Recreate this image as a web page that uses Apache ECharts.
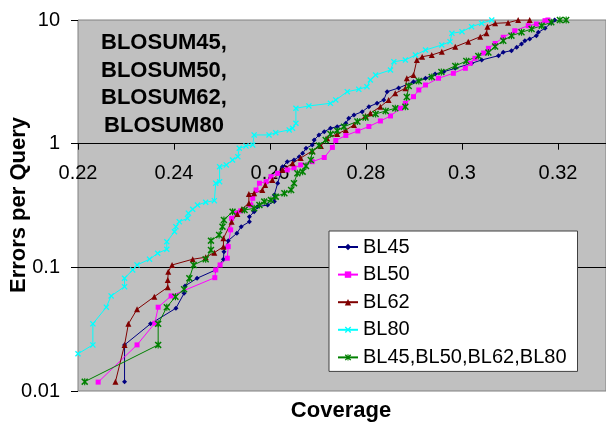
<!DOCTYPE html>
<html>
<head>
<meta charset="utf-8">
<script src="https://cdn.jsdelivr.net/npm/echarts@6.0.0/dist/echarts.min.js"></script>
<style>
html,body{margin:0;padding:0;background:#fff;}
#chart{width:606px;height:425px;}
</style>
</head>
<body>
<div id="chart"></div>
<script>
// ---- data (coverage, errors per query) ----
const seriesNames = ['BL45', 'BL50', 'BL62', 'BL80', 'BL45,BL50,BL62,BL80'];
const xTicks = [0.22, 0.24, 0.26, 0.28, 0.30, 0.32];
const yTicks = [0.01, 0.1, 1, 10];

const bl45 = [[0.2297,0.0119],[0.2297,0.0236],[0.2351,0.0349],[0.2404,0.0467],[0.2421,0.0617],[0.2423,0.0707],[0.2448,0.0816],[0.2487,0.0953],[0.2503,0.1163],[0.2504,0.1339],[0.2513,0.1644],[0.2531,0.1887],[0.2540,0.2133],[0.2557,0.234],[0.2557,0.257],[0.2567,0.282],[0.2574,0.309],[0.2595,0.319],[0.2609,0.340],[0.2609,0.385],[0.2616,0.479],[0.2626,0.652],[0.2636,0.715],[0.2650,0.738],[0.2661,0.785],[0.2668,0.836],[0.2675,0.918],[0.2688,0.976],[0.2692,1.071],[0.2702,1.176],[0.2713,1.250],[0.2726,1.332],[0.2740,1.372],[0.2758,1.462],[0.2764,1.604],[0.2775,1.706],[0.2792,1.814],[0.2806,1.991],[0.2823,2.121],[0.2837,2.256],[0.2844,2.633],[0.2868,2.820],[0.2899,3.171],[0.2924,3.379],[0.2944,3.661],[0.2962,3.820],[0.2986,4.07],[0.3020,4.467],[0.3041,4.75],[0.3076,5.145],[0.3086,5.48],[0.3103,5.65],[0.3114,6.02],[0.3124,6.40],[0.3131,6.80],[0.3141,7.02],[0.3155,7.47],[0.3159,7.95],[0.3173,8.57],[0.3186,9.51],[0.3193,10.0]];

const bl50 = [[0.2242,0.0118],[0.2323,0.0236],[0.2360,0.0353],[0.2367,0.0476],[0.2394,0.0587],[0.2485,0.0825],[0.2487,0.0953],[0.2496,0.1045],[0.2511,0.1185],[0.2513,0.147],[0.2518,0.201],[0.2520,0.249],[0.2530,0.274],[0.2539,0.286],[0.2560,0.319],[0.2564,0.362],[0.2571,0.422],[0.2578,0.479],[0.2592,0.493],[0.2602,0.541],[0.2616,0.576],[0.2636,0.613],[0.2650,0.636],[0.2664,0.673],[0.2688,0.715],[0.2713,0.773],[0.2730,0.932],[0.2737,1.061],[0.2758,1.165],[0.2783,1.267],[0.2806,1.377],[0.2830,1.526],[0.2851,1.675],[0.2872,1.933],[0.2882,2.121],[0.2899,2.399],[0.2910,2.718],[0.2924,2.982],[0.2951,3.379],[0.2982,3.708],[0.3007,4.07],[0.3017,4.467],[0.3027,4.90],[0.3045,5.41],[0.3055,5.90],[0.3069,6.46],[0.3086,7.25],[0.3110,8.19],[0.3138,9.00],[0.3155,9.28],[0.3173,9.87],[0.3179,10.0]];

const bl62 = [[0.2278,0.0119],[0.2297,0.0236],[0.2305,0.0349],[0.2323,0.0458],[0.2359,0.0579],[0.2387,0.0690],[0.2387,0.0791],[0.2388,0.0923],[0.2396,0.1045],[0.2439,0.1163],[0.2466,0.1207],[0.2484,0.1315],[0.2503,0.147],[0.2503,0.172],[0.2520,0.234],[0.2532,0.270],[0.2541,0.295],[0.2556,0.330],[0.2556,0.392],[0.2567,0.397],[0.2584,0.422],[0.2590,0.464],[0.2605,0.509],[0.2626,0.613],[0.2647,0.694],[0.2664,0.766],[0.2688,0.873],[0.2706,0.958],[0.2719,1.106],[0.2740,1.198],[0.2758,1.291],[0.2775,1.416],[0.2799,1.675],[0.2809,1.761],[0.2830,1.991],[0.2847,2.256],[0.2861,2.555],[0.2882,2.804],[0.2885,3.379],[0.2899,3.593],[0.2906,4.75],[0.2917,5.05],[0.2937,5.21],[0.2958,5.54],[0.2986,6.08],[0.3013,6.68],[0.3038,7.33],[0.3051,7.81],[0.3053,8.83],[0.3069,9.40],[0.3096,9.51],[0.3117,10.0],[0.3141,10.0]];

const bl80 = [[0.2200,0.0200],[0.2231,0.0236],[0.2231,0.0349],[0.2259,0.0476],[0.2269,0.0587],[0.2297,0.0698],[0.2297,0.0816],[0.2314,0.0953],[0.2323,0.1045],[0.2349,0.1163],[0.2366,0.130],[0.2385,0.140],[0.2385,0.161],[0.2401,0.194],[0.2404,0.213],[0.2411,0.234],[0.2428,0.249],[0.2430,0.274],[0.2439,0.295],[0.2449,0.319],[0.2466,0.336],[0.2484,0.346],[0.2487,0.479],[0.2495,0.493],[0.2495,0.652],[0.2509,0.673],[0.2522,0.738],[0.2533,0.785],[0.2536,0.918],[0.2550,0.958],[0.2564,0.976],[0.2567,1.176],[0.2598,1.176],[0.2612,1.227],[0.2640,1.291],[0.2647,1.332],[0.2654,1.462],[0.2654,1.933],[0.2681,2.018],[0.2726,2.121],[0.2737,2.256],[0.2761,2.633],[0.2785,2.753],[0.2802,2.889],[0.2809,3.273],[0.2820,3.593],[0.2851,3.943],[0.2858,4.60],[0.2882,4.75],[0.2903,5.21],[0.2924,5.72],[0.2958,6.28],[0.2975,6.68],[0.2979,7.81],[0.3000,8.04],[0.3020,8.83],[0.3041,9.40],[0.3062,10.0]];

const blAll = [[0.2214,0.0119],[0.2367,0.0236],[0.2367,0.0349],[0.2385,0.0476],[0.2403,0.0579],[0.2421,0.0665],[0.2432,0.0816],[0.2441,0.1045],[0.2466,0.1163],[0.2477,0.1382],[0.2477,0.1644],[0.2494,0.1827],[0.2501,0.2133],[0.2504,0.2416],[0.2522,0.282],[0.2547,0.291],[0.2567,0.300],[0.2578,0.319],[0.2588,0.340],[0.2602,0.351],[0.2612,0.373],[0.2630,0.397],[0.2644,0.422],[0.2650,0.479],[0.2657,0.576],[0.2668,0.594],[0.2675,0.660],[0.2685,0.738],[0.2688,0.865],[0.2702,0.967],[0.2716,1.071],[0.2726,1.198],[0.2740,1.271],[0.2754,1.372],[0.2782,1.512],[0.2799,1.628],[0.2820,1.739],[0.2841,1.838],[0.2861,1.933],[0.2882,1.991],[0.2885,2.385],[0.2889,2.928],[0.2910,3.213],[0.2937,3.461],[0.2957,3.798],[0.2986,4.25],[0.3009,4.66],[0.3034,5.12],[0.3055,5.46],[0.3069,6.11],[0.3086,6.80],[0.3103,7.47],[0.3124,7.95],[0.3145,8.46],[0.3166,9.00],[0.3186,9.58],[0.3204,10.0],[0.3217,10.0]];

const annotation = 'BLOSUM45,\nBLOSUM50,\nBLOSUM62,\nBLOSUM80';

// ---- styling ----
const FONT = '"Liberation Sans", Arial, sans-serif';
const xSym = 'path://M0,1.5L1.5,0L5,3.5L8.5,0L10,1.5L6.5,5L10,8.5L8.5,10L5,6.5L1.5,10L0,8.5L3.5,5Z';
const starSym = 'path://M0,1.5L1.5,0L5,3.5L8.5,0L10,1.5L6.5,5L10,8.5L8.5,10L5,6.5L1.5,10L0,8.5L3.5,5Z M4.2,0L5.8,0L5.8,10L4.2,10Z';
const styles = [
  {color:'#000080', symbol:'diamond', size:5},
  {color:'#FF00FF', symbol:'rect', size:5},
  {color:'#800000', symbol:'triangle', size:6},
  {color:'#00FFFF', symbol:xSym, size:6},
  {color:'#008000', symbol:starSym, size:7}
];
const allData = [bl45, bl50, bl62, bl80, blAll];

const chart = echarts.init(document.getElementById('chart'), null, {renderer:'canvas'});
const option = {
  animation: false,
  backgroundColor: '#ffffff',
  textStyle: {fontFamily: FONT},
  grid: {
    left: 78, top: 20, right: -2, bottom: 34,
    show: true, backgroundColor: '#C0C0C0', borderColor: '#808080', borderWidth: 1
  },
  xAxis: {
    type: 'value', min: xTicks[0], max: 0.33, interval: 0.02,
    position: 'bottom', offset: -247.3,
    axisLine: {show: true, lineStyle: {color: '#000', width: 1}},
    axisTick: {show: true, inside: false, length: 6, lineStyle: {color: '#000'}},
    axisLabel: {
      show: true, margin: 20, fontSize: 20, color: '#000', fontFamily: FONT,
      showMaxLabel: false,
      formatter: v => String(+(+v).toFixed(2))
    },
    splitLine: {show: false}
  },
  yAxis: {
    type: 'log', logBase: 10, min: yTicks[0], max: yTicks[yTicks.length-1],
    axisLine: {show: false},
    axisTick: {show: true, inside: false, length: 7, lineStyle: {color: '#000'}},
    axisLabel: {
      margin: 18, fontSize: 20, color: '#000', fontFamily: FONT,
      formatter: v => String(+(+v).toPrecision(3))
    },
    splitLine: {show: true, showMinLine: false, showMaxLine: false, lineStyle: {color: '#000', width: 1}}
  },
  legend: {
    orient: 'vertical', left: 329, top: 231,
    padding: [6, 11, 4, 8],
    itemGap: 7.6, itemWidth: 20, itemHeight: 8,
    backgroundColor: '#ffffff', borderColor: '#404040', borderWidth: 1,
    textStyle: {fontSize: 20, color: '#000', fontFamily: FONT, lineHeight: 20},
    data: seriesNames
  },
  graphic: [
    {
      type: 'text', x: 164, y: 84.6, silent: true,
      style: {
        text: annotation, fontSize: 22, fontWeight: 'bold', fontFamily: FONT,
        fill: '#000', align: 'center', verticalAlign: 'middle', lineHeight: 27.6
      }
    },
    {
      type: 'text', x: 341, y: 411, silent: true,
      style: {
        text: 'Coverage', fontSize: 22, fontWeight: 'bold', fontFamily: FONT,
        fill: '#000', align: 'center', verticalAlign: 'middle'
      }
    },
    {
      type: 'text', x: 19, y: 205, rotation: Math.PI / 2, silent: true,
      style: {
        text: 'Errors per Query', fontSize: 22, fontWeight: 'bold', fontFamily: FONT,
        fill: '#000', align: 'center', verticalAlign: 'middle'
      }
    }
  ],
  series: allData.map((d, i) => ({
    name: seriesNames[i],
    type: 'line',
    data: d,
    symbol: styles[i].symbol,
    symbolSize: styles[i].size,
    showSymbol: true,
    clip: true,
    silent: true,
    lineStyle: {color: styles[i].color, width: 1},
    itemStyle: {color: styles[i].color, borderWidth: 0},
    emphasis: {disabled: true}
  }))
};
chart.setOption(option);
</script>
</body>
</html>
